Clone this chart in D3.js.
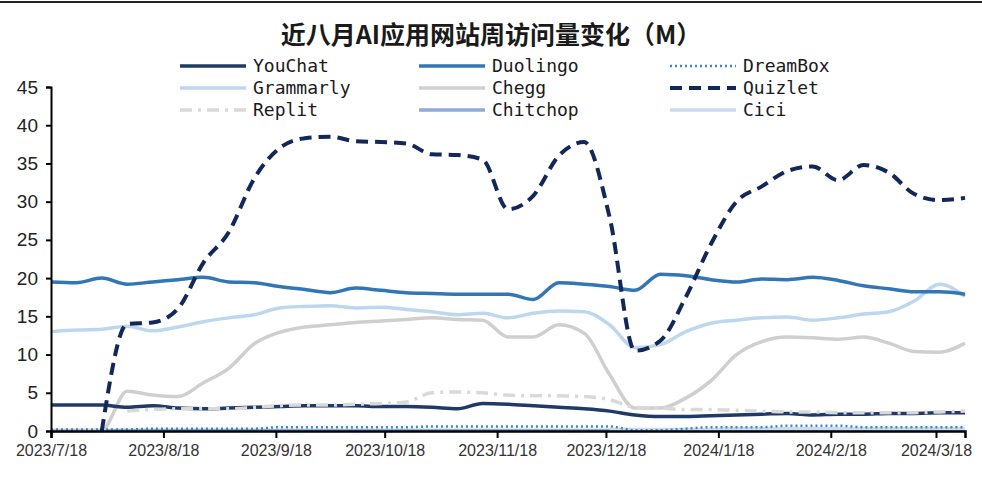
<!DOCTYPE html>
<html><head><meta charset="utf-8">
<script src="https://cdn.jsdelivr.net/npm/d3@7"></script>
<style>
body{margin:0;background:#fff;}
svg{display:block;}
</style></head>
<body><svg id="c" width="982" height="484"></svg>
<script>
const title = "近八月AI应用网站周访问量变化（M）";
const dates = ["2023-07-18","2023-07-25","2023-08-01","2023-08-08","2023-08-15","2023-08-22","2023-08-29","2023-09-05","2023-09-12","2023-09-19","2023-09-26","2023-10-03","2023-10-10","2023-10-17","2023-10-24","2023-10-31","2023-11-07","2023-11-14","2023-11-21","2023-11-28","2023-12-05","2023-12-12","2023-12-19","2023-12-26","2024-01-02","2024-01-09","2024-01-16","2024-01-23","2024-01-30","2024-02-06","2024-02-13","2024-02-20","2024-02-27","2024-03-05","2024-03-12","2024-03-19","2024-03-26"];
const xTickLabels = ["2023/7/18","2023/8/18","2023/9/18","2023/10/18","2023/11/18","2023/12/18","2024/1/18","2024/2/18","2024/3/18"];
const yTicks = [0,5,10,15,20,25,30,35,40,45];

const youChat   = [3.4,3.4,3.4,3.1,3.3,3.0,2.9,3.0,3.1,3.2,3.3,3.3,3.3,3.2,3.2,3.1,2.9,3.6,3.5,3.3,3.1,2.9,2.6,2.1,1.9,1.9,2.0,2.1,2.2,2.3,2.1,2.2,2.2,2.3,2.3,2.4,2.4];
const duolingo  = [19.5,19.4,20.0,19.2,19.5,19.8,20.1,19.5,19.4,18.9,18.5,18.1,18.7,18.4,18.1,18.0,17.9,17.9,17.9,17.2,19.4,19.2,18.9,18.4,20.5,20.3,19.8,19.5,19.9,19.8,20.1,19.7,19.0,18.6,18.2,18.2,17.9];
const dreamBox  = [0.2,0.2,0.2,0.2,0.3,0.3,0.3,0.3,0.3,0.5,0.5,0.5,0.5,0.5,0.5,0.6,0.6,0.6,0.6,0.6,0.6,0.6,0.6,0.1,0.1,0.3,0.5,0.5,0.5,0.7,0.7,0.7,0.5,0.5,0.5,0.5,0.5];
const grammarly = [13.0,13.2,13.3,13.7,13.1,13.6,14.3,14.8,15.2,16.1,16.3,16.4,16.1,16.2,15.9,15.6,15.2,15.4,14.8,15.4,15.7,15.6,13.9,10.9,11.3,13.0,14.1,14.5,14.8,14.9,14.5,14.8,15.3,15.6,17.0,19.2,17.6];
const chegg     = [0,0,0.1,5.2,4.7,4.5,6.3,8.2,11.4,12.9,13.6,13.9,14.2,14.4,14.6,14.8,14.6,14.5,12.3,12.3,13.9,12.8,7.4,3.0,3.0,4.3,6.6,10.0,11.7,12.3,12.2,12.0,12.3,11.5,10.4,10.3,11.5];
const quizlet   = [null,null,0,14.0,14.2,16.0,22.0,26.0,33.0,37.0,38.3,38.5,37.9,37.8,37.6,36.2,36.1,35.5,29.0,30.8,36.0,37.8,28.0,10.5,11.8,17.5,24.5,30.0,32.0,34.0,34.6,32.8,34.8,33.8,31.0,30.2,30.5];
const replit    = [null,null,null,2.6,2.8,2.9,2.9,2.9,3.1,3.3,3.4,3.4,3.5,3.6,3.8,5.0,5.1,5.0,4.7,4.6,4.6,4.5,4.1,3.1,3.0,2.8,2.8,2.7,2.6,2.5,2.5,2.4,2.4,2.4,2.4,2.5,2.6];
const chitchop  = [0.05,0.05,0.05,0.05,0.05,0.05,0.05,0.05,0.05,0.05,0.05,0.05,0.05,0.05,0.05,0.05,0.05,0.05,0.05,0.05,0.05,0.05,0.05,0.05,0.05,0.05,0.05,0.05,0.05,0.05,0.05,0.05,0.05,0.05,0.05,0.05,0.05];
const cici      = [null,null,null,null,null,null,null,null,null,null,null,null,null,null,null,null,null,null,null,null,null,null,0.2,0.2,0.2,0.2,0.2,0.3,0.3,0.3,0.3,0.3,0.3,0.3,0.3,0.3,0.3];

const seriesNames = ["YouChat","Duolingo","DreamBox","Grammarly","Chegg","Quizlet","Replit","Chitchop","Cici"];
const seriesValues = [youChat,duolingo,dreamBox,grammarly,chegg,quizlet,replit,chitchop,cici];
const styles = {
  YouChat:  {color:"#1f3a68", w:3.5, dash:null},
  Duolingo: {color:"#3276b5", w:3.5, dash:null},
  DreamBox: {color:"#3a86c8", w:2.5, dash:"2,3"},
  Grammarly:{color:"#bdd7ee", w:3.5, dash:null},
  Chegg:    {color:"#cfcfcf", w:3.5, dash:null},
  Quizlet:  {color:"#12275a", w:4, dash:"12,7"},
  Replit:   {color:"#d9d9d9", w:3.5, dash:"12,6,3,6"},
  Chitchop: {color:"#8faadc", w:3.5, dash:null},
  Cici:     {color:"#c9dcf2", w:3.5, dash:null}
};

const parse = d3.timeParse("%Y-%m-%d");
const dts = dates.map(parse);
const svg = d3.select("#c");

// top rule
svg.append("line").attr("x1",0).attr("x2",982).attr("y1",2).attr("y2",2).attr("stroke","#222").attr("stroke-width",2);

svg.append("text").attr("x",491).attr("y",44).attr("text-anchor","middle")
  .attr("font-family","'Noto Sans CJK SC'").attr("font-weight","bold").attr("font-size",25)
  .attr("fill","#1a1a1a").text(title);

const x = d3.scaleTime().domain([parse("2023-07-18"), parse("2024-03-26")]).range([51,965]);
const y = d3.scaleLinear().domain([0,45]).range([431,87]);

const tickDates = xTickLabels.map(s => d3.timeParse("%Y/%m/%d")(s));

// lines
const line = d3.line().defined(d => d.v != null).x(d => x(d.d)).y(d => y(d.v)).curve(d3.curveMonotoneX);
const drawOrder = ["Chitchop","Cici","Grammarly","Chegg","Duolingo","YouChat","Replit","DreamBox","Quizlet"];
drawOrder.forEach(name => {
  const i = seriesNames.indexOf(name);
  const st = styles[name];
  const data = seriesValues[i].map((v,j) => ({d:dts[j], v:v}));
  svg.append("path").datum(data).attr("d", line).attr("fill","none")
    .attr("stroke", st.color).attr("stroke-width", st.w)
    .attr("stroke-dasharray", st.dash);
});

// axes
const xAxis = d3.axisBottom(x).tickValues(tickDates).tickSize(7).tickPadding(7)
  .tickFormat((d,i) => xTickLabels[i]);
const gx = svg.append("g").attr("transform","translate(0,431)").call(xAxis);
gx.select(".domain").attr("stroke","#000").attr("stroke-width",2.5);
gx.selectAll(".tick line").attr("stroke","#000").attr("stroke-width",2);
gx.selectAll("text").attr("font-family","'Liberation Sans', Arial").attr("font-size",16).attr("fill","#333");

const yAxis = d3.axisLeft(y).tickValues(yTicks).tickSize(5).tickPadding(8);
const gy = svg.append("g").attr("transform","translate(51,0)").call(yAxis);
gy.select(".domain").attr("stroke","#000").attr("stroke-width",2);
gy.selectAll(".tick line").attr("stroke","#000").attr("stroke-width",2);
gy.selectAll("text").attr("font-family","'Liberation Sans', Arial").attr("font-size",19).attr("fill","#222");

// legend
const cols = [180, 419, 670];
const rows = [66, 88, 110];
seriesNames.forEach((name,i) => {
  const cx = cols[i%3], cy = rows[Math.floor(i/3)];
  const st = styles[name];
  svg.append("line").attr("x1",cx).attr("x2",cx+66).attr("y1",cy).attr("y2",cy)
    .attr("stroke",st.color).attr("stroke-width",st.w).attr("stroke-dasharray",st.dash);
  svg.append("text").attr("x",cx+73).attr("y",cy+6)
    .attr("font-family","'DejaVu Sans Mono'").attr("font-size",18).attr("fill","#1a1a1a")
    .text(name);
});
</script></body></html>
